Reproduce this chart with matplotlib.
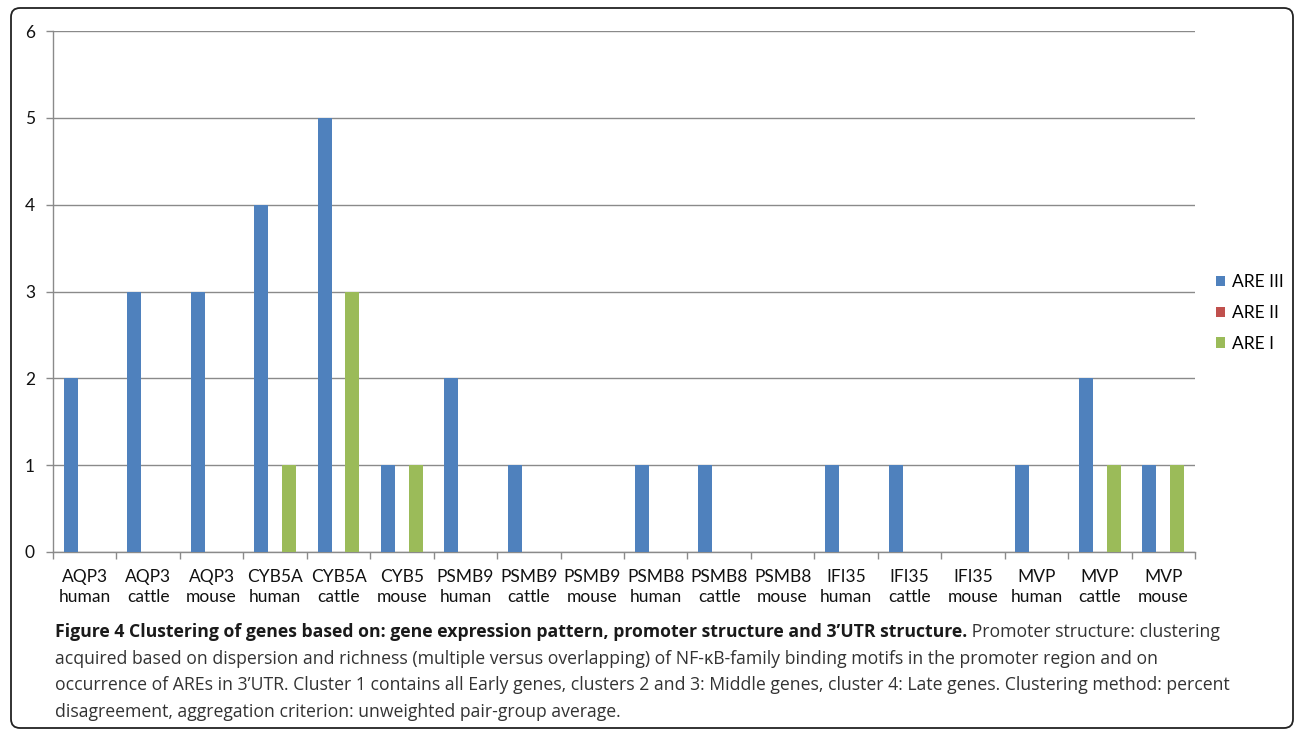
import numpy as np
import matplotlib
matplotlib.use("Agg")
import matplotlib.pyplot as plt
from matplotlib.patches import Patch, FancyBboxPatch

# ---- data -------------------------------------------------------------
genes = ["AQP3", "AQP3", "AQP3", "CYB5A", "CYB5A", "CYB5", "PSMB9", "PSMB9", "PSMB9",
         "PSMB8", "PSMB8", "PSMB8", "IFI35", "IFI35", "IFI35", "MVP", "MVP", "MVP"]
species = ["human", "cattle", "mouse", "human", "cattle", "mouse", "human", "cattle", "mouse",
           "human", "cattle", "mouse", "human", "cattle", "mouse", "human", "cattle", "mouse"]
are_iii = [2, 3, 3, 4, 5, 1, 2, 1, 0, 1, 1, 0, 1, 1, 0, 1, 2, 1]
are_ii = [0] * 18
are_i = [0, 0, 0, 1, 3, 1, 0, 0, 0, 0, 0, 0, 0, 0, 0, 0, 1, 1]
series_names = ["ARE III", "ARE II", "ARE I"]
series_colors = ["#4F81BD", "#C0504D", "#9BBB59"]
yticks = [0, 1, 2, 3, 4, 5, 6]

caption_bold = ("Figure 4 Clustering of genes based on: gene expression pattern, "
                "promoter structure and 3\u2019UTR structure.")
caption_lines = [
    " Promoter structure: clustering",
    "acquired based on dispersion and richness (multiple versus overlapping) of NF-\u03baB-family "
    "binding motifs in the promoter region and on",
    "occurrence of AREs in 3\u2019UTR. Cluster 1 contains all Early genes, clusters 2 and 3: "
    "Middle genes, cluster 4: Late genes. Clustering method: percent",
    "disagreement, aggregation criterion: unweighted pair-group average.",
]

# ---- figure -----------------------------------------------------------
W, H = 1295, 730
fig = plt.figure(figsize=(W / 100, H / 100), dpi=100)
tick_font = ["Lato", "DejaVu Sans"]
cap_font = ["Open Sans", "DejaVu Sans"]
tick_size = 12.5

def px_x(x):
    return x / W

def px_y(y):
    return 1 - y / H

ax = fig.add_axes([px_x(53), px_y(552), px_x(1195) - px_x(53), px_y(31) - px_y(552)])

n = len(genes)
x = np.arange(n)
bw = 0.22
for k, (vals, col, name) in enumerate(zip([are_iii, are_ii, are_i], series_colors, series_names)):
    ax.bar(x + (k - 1) * bw, vals, width=bw, color=col, label=name, zorder=3)

ax.set_xlim(-0.5, n - 0.5)
ax.set_ylim(0, 6)
ax.set_yticks(yticks)
ax.set_yticklabels([str(v) for v in yticks], fontsize=tick_size, family=tick_font, color="#111111")
ax.yaxis.grid(True, color="#8a8a8a", linewidth=1.0, zorder=0)
ax.set_axisbelow(True)

ax.set_xticks(x)
ax.set_xticklabels([f"{g}\n{s}" for g, s in zip(genes, species)], fontsize=tick_size,
                   family=tick_font, color="#111111", linespacing=1.35)
ax.tick_params(axis="x", length=0, pad=12)
ax.set_xticks(np.arange(n + 1) - 0.5, minor=True)
ax.tick_params(axis="x", which="minor", length=5, color="#8a8a8a", width=1.0, direction="out")
ax.tick_params(axis="y", length=5, color="#8a8a8a", width=1.0, pad=8, direction="out")

for side in ["top", "right"]:
    ax.spines[side].set_visible(False)
for side in ["left", "bottom"]:
    ax.spines[side].set_color("#8a8a8a")
    ax.spines[side].set_linewidth(1.0)

handles = [Patch(facecolor=c, edgecolor="none") for c in series_colors]
fig.legend(handles, series_names, loc="center left",
           bbox_to_anchor=(px_x(1209), px_y(313)), frameon=False,
           prop={"family": tick_font, "size": tick_size}, handlelength=0.55, handleheight=0.55,
           handletextpad=0.4, labelspacing=0.85, borderaxespad=0)

# ---- caption ----------------------------------------------------------
renderer = fig.canvas.get_renderer()
cap_size = 13.5
# scale caption so that the longest line spans the text block width
probe = fig.text(0, 0, caption_lines[2], fontsize=cap_size, family=cap_font)
wpx = probe.get_window_extent(renderer).width
probe.remove()
cap_size = cap_size * (1177 / wpx)

x0 = px_x(55)
line_y = [632, 659, 685, 712]
tb = fig.text(x0, px_y(line_y[0]), caption_bold, fontsize=cap_size, family=cap_font,
              fontweight="bold", color="#1a1a1a", va="center", ha="left")
bx = tb.get_window_extent(renderer).x1 / W
fig.text(bx, px_y(line_y[0]), caption_lines[0], fontsize=cap_size, family=cap_font,
         color="#333333", va="center", ha="left")
for ln, yy in zip(caption_lines[1:], line_y[1:]):
    fig.text(x0, px_y(yy), ln, fontsize=cap_size, family=cap_font, color="#333333",
             va="center", ha="left")

# ---- rounded frame ----------------------------------------------------
frame = FancyBboxPatch((11 / 100, (H - 728) / 100), (1293 - 11) / 100, (728 - 8) / 100,
                       boxstyle="round,pad=0,rounding_size=0.09",
                       transform=fig.dpi_scale_trans, facecolor="none",
                       edgecolor="#222222", linewidth=1.3)
fig.patches.append(frame)

fig.savefig("out.png", dpi=100)
